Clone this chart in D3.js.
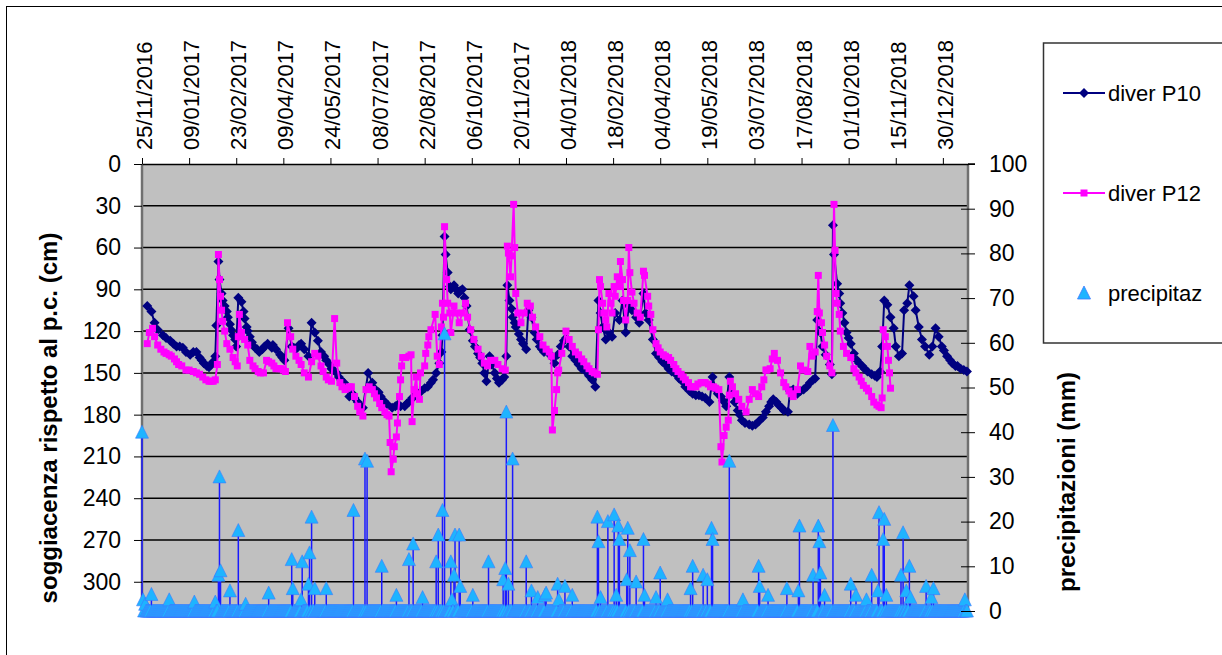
<!DOCTYPE html>
<html>
<head>
<meta charset="utf-8">
<script src="https://cdn.jsdelivr.net/npm/d3@7"></script>
<style>
  body { margin: 0; background: #fff; }
  svg { display: block; font-family: "Liberation Sans", Arial, sans-serif; }
</style>
</head>
<body>
<svg id="chart" width="1222" height="655"></svg>
<script>
// ─── Data ─────────────────────────────────────────────────────────────────────
// days are counted from START; water levels in cm below ground, rain in mm
const START = new Date(2016, 10, 25);
const END = new Date(2019, 0, 23);
const DATE_TICK_DAYS = [0, 45, 90, 135, 180, 225, 270, 315, 360, 405, 450, 495, 540, 585, 630, 675, 720, 765];
const LEFT_TICKS = [0, 30, 60, 90, 120, 150, 180, 210, 240, 270, 300];
const RIGHT_TICKS = [0, 10, 20, 30, 40, 50, 60, 70, 80, 90, 100];
const RAIN_LAST_DAY = 788;

const p10 = [
  [5,102],[9,106],[12,114],[15,119],[20,123],[23,125],[27,127],[30,129],[33,131],[36,131],[39,132],[42,135],
  [46,137],[49,135],[52,135],[55,139],[57,141],[59,143],[62,145],[64,146],[66,144],[68,142],[70,138],[71,116],
  [73,70],[74,83],[76,93],[77,98],[79,102],[81,106],[82,110],[84,115],[85,119],[87,123],[89,126],[90,131],
  [92,96],[95,99],[97,106],[98,111],[100,117],[101,120],[103,124],[105,128],[108,132],[110,133],[112,135],
  [115,133],[117,131],[120,129],[124,132],[125,130],[128,133],[132,137],[134,139],[136,141],[140,118],[143,131],
  [145,132],[147,133],[150,130],[152,129],[155,133],[159,138],[162,114],[165,121],[168,127],[171,135],[174,138],
  [176,141],[179,144],[181,147],[183,148],[186,150],[188,153],[190,155],[193,157],[195,160],[198,167],[201,165],
  [203,168],[206,171],[208,173],[211,175],[216,150],[220,157],[223,162],[226,164],[228,167],[231,170],[235,173],
  [239,175],[242,174],[244,173],[247,174],[251,174],[253,172],[255,171],[258,168],[260,167],[263,165],[267,163],
  [270,161],[273,160],[276,157],[278,155],[281,150],[284,143],[286,135],[287,123],[289,52],[290,65],[292,78],
  [294,88],[295,90],[298,87],[300,90],[302,93],[304,91],[306,90],[308,96],[310,102],[313,119],[316,127],[318,131],
  [321,136],[323,139],[325,143],[327,150],[329,156],[332,138],[334,144],[337,150],[339,154],[341,157],[344,155],
  [346,153],[348,138],[349,87],[351,98],[353,104],[354,110],[356,114],[357,117],[360,122],[362,126],[364,129],
  [367,133],[369,105],[372,110],[375,121],[377,126],[380,131],[382,133],[384,135],[387,135],[389,136],[392,139],
  [394,143],[397,137],[400,131],[403,127],[405,125],[408,131],[411,138],[414,141],[417,144],[420,147],[424,149],
  [427,152],[430,155],[433,160],[436,98],[438,107],[440,117],[443,126],[446,121],[449,124],[452,107],[456,112],
  [459,98],[462,121],[465,102],[468,105],[472,110],[475,114],[479,93],[481,107],[484,112],[488,126],[491,136],
  [494,139],[497,142],[500,144],[503,147],[506,149],[510,151],[513,154],[516,156],[519,160],[523,163],[526,165],
  [529,166],[532,166],[535,167],[538,168],[542,171],[545,153],[548,162],[550,165],[553,167],[555,170],[558,174],
  [561,153],[564,165],[566,171],[569,177],[571,180],[573,184],[576,186],[580,187],[583,188],[586,187],[589,185],
  [593,182],[596,178],[599,174],[601,171],[603,169],[606,171],[608,173],[611,175],[613,177],[617,178],[619,163],
  [622,162],[626,165],[629,163],[632,162],[635,160],[638,157],[641,155],[643,154],[645,112],[648,121],[650,131],
  [653,137],[657,144],[659,151],[660,44],[661,65],[664,86],[666,93],[667,100],[669,107],[671,114],[673,121],
  [675,125],[677,129],[680,136],[683,141],[685,143],[688,145],[690,147],[693,149],[697,151],[700,152],[702,153],
  [705,149],[707,131],[709,98],[712,101],[715,110],[718,118],[720,131],[723,138],[726,136],[728,105],[731,100],
  [733,87],[737,95],[739,105],[742,117],[745,126],[748,131],[752,137],[755,131],[758,118],[761,124],[764,131],
  [766,134],[769,138],[772,141],[774,143],[777,145],[779,145],[782,147],[785,148],[788,149]
];

const p12 = [
  [5,129],[7,121],[10,118],[12,124],[15,130],[18,133],[21,135],[23,136],[26,137],[28,138],[31,140],[33,142],
  [35,144],[38,145],[42,148],[45,148],[49,149],[52,150],[55,151],[58,153],[61,155],[64,156],[66,156],[68,156],
  [70,155],[72,144],[73,65],[74,83],[75,95],[76,105],[77,113],[79,120],[81,129],[84,133],[87,139],[89,142],
  [91,145],[92,124],[93,108],[95,121],[98,126],[101,130],[103,141],[106,145],[108,147],[111,149],[113,150],
  [116,150],[119,141],[121,142],[124,143],[126,145],[128,147],[131,147],[133,147],[135,148],[137,149],[139,114],
  [142,124],[144,133],[147,138],[150,141],[152,144],[155,150],[159,153],[162,142],[165,136],[168,138],[171,145],
  [173,149],[176,153],[178,155],[181,156],[184,111],[186,143],[189,157],[191,160],[194,162],[196,161],[198,160],
  [200,160],[203,167],[206,174],[208,178],[211,181],[214,162],[217,160],[220,162],[222,165],[224,168],[227,172],
  [229,175],[232,178],[234,180],[236,181],[237,200],[238,221],[240,212],[241,203],[243,196],[244,186],[246,167],
  [247,155],[248,145],[249,139],[252,139],[255,138],[257,137],[258,185],[260,162],[262,153],[263,165],[265,169],
  [266,150],[270,145],[271,136],[273,130],[274,124],[276,119],[280,108],[282,138],[284,144],[286,117],[287,100],
  [288,110],[289,45],[291,83],[292,100],[294,107],[295,121],[298,102],[300,107],[303,114],[306,107],[309,100],
  [311,110],[314,119],[317,126],[321,133],[324,138],[327,143],[330,145],[333,141],[337,141],[340,144],[344,147],
  [347,148],[349,59],[350,64],[352,81],[353,66],[355,29],[356,60],[357,93],[359,107],[362,114],[365,107],
  [368,100],[371,102],[373,110],[376,117],[380,124],[383,130],[386,133],[389,135],[391,138],[392,191],[394,177],
  [396,162],[397,150],[398,148],[401,136],[405,120],[408,126],[411,131],[414,135],[417,137],[420,140],[422,142],
  [425,145],[427,147],[430,149],[432,150],[435,151],[436,119],[437,83],[438,88],[440,100],[441,107],[443,112],
  [444,117],[446,93],[448,100],[449,107],[451,88],[452,95],[454,81],[456,88],[457,70],[459,83],[460,98],
  [462,112],[464,98],[465,60],[466,78],[468,92],[470,100],[473,107],[476,110],[479,77],[480,80],[483,95],
  [484,102],[486,108],[488,119],[491,129],[493,132],[495,135],[498,137],[500,138],[503,139],[505,141],[508,144],
  [510,147],[512,149],[515,151],[517,153],[519,155],[522,157],[524,160],[526,160],[529,160],[531,158],[534,157],
  [536,157],[538,157],[541,158],[543,160],[546,160],[548,161],[551,162],[553,203],[554,214],[556,195],[558,189],
  [560,184],[561,166],[562,156],[564,160],[567,165],[570,169],[573,174],[577,178],[580,169],[583,162],[586,165],
  [589,167],[592,160],[594,155],[596,148],[597,148],[600,147],[602,140],[604,136],[607,141],[610,150],[613,157],
  [615,160],[618,163],[620,165],[622,167],[626,162],[629,145],[632,148],[636,149],[638,131],[640,138],[643,135],
  [645,106],[646,80],[647,107],[649,114],[650,121],[652,130],[654,138],[657,145],[659,150],[661,29],[662,62],
  [663,93],[664,100],[666,108],[667,120],[670,131],[673,136],[677,139],[680,147],[682,150],[685,153],[687,156],
  [689,159],[692,161],[694,163],[697,167],[699,171],[702,173],[704,174],[706,175],[707,168],[708,119],[710,124],
  [712,131],[713,141],[714,150],[715,161]
];

// rainy days only; every other day up to RAIN_LAST_DAY is 0 mm
const rain = [
  [0,40],[1,2.5],[3,1.5],[9,3.7],[26,2.5],[50,2],[70,2],[73,8],[74,30],[75,9],[84,4.5],[92,18],[99,1.5],
  [121,4],[143,11.5],[144,5],[152,2.5],[153,11],[159,6],[160,13],[162,21],[165,5],[176,5],[202,22.5],[213,34],
  [215,33.5],[229,10],[243,3.5],[255,11.5],[259,15],[268,3],[281,11],[283,17],[287,22.5],[289,62],[295,11],
  [296,2.5],[298,8],[299,17],[303,17],[304,5.5],[316,3.5],[331,11],[345,7],[347,9.5],[348,44.5],[350,6],[354,34],
  [367,11],[372,4.5],[378,3],[385,3.5],[386,4],[397,6],[398,2.5],[404,5.5],[411,3.5],[435,21],[436,15.5],
  [438,3],[445,20],[451,21.5],[453,3.5],[455,19],[456,16],[463,7],[464,18.5],[466,13.5],[472,6.5],[479,16],
  [480,3.5],[491,3],[495,8.5],[502,2.5],[524,5],[526,10],[536,8],[540,7],[544,18.5],[545,16],[561,33.5],
  [574,2.5],[589,10],[590,5.5],[598,3.5],[616,5],[627,4.5],[628,19],[641,8],[646,19],[647,15.5],[648,8.5],
  [652,3.5],[660,41.5],[677,6],[682,3.5],[692,2.5],[697,8],[703,4.5],[704,22],[708,16],[709,20.5],[711,3.5],
  [725,8],[727,17.5],[730,4.5],[733,10],[734,3],[749,5.5],[754,3],[756,5],[786,2.5]
];

// ─── Layout ───────────────────────────────────────────────────────────────────
const plot = { left: 142, top: 164, right: 968, bottom: 611 };
const NAVY = '#000080', MAGENTA = '#ff00ff', RAIN_FILL = '#1eb4ff', RAIN_EDGE = '#3d78ff';
const FONT = '"Liberation Sans", Arial, sans-serif';
const day = d => d3.timeDay.offset(START, d);

const svg = d3.select('#chart');

// outer chart frame
svg.append('rect').attr('x', 6.5).attr('y', 6.5).attr('width', 1300).attr('height', 700)
  .attr('fill', '#fff').attr('stroke', '#000').attr('stroke-width', 1);

const x = d3.scaleTime().domain([START, END]).range([plot.left, plot.right]);
const yL = d3.scaleLinear().domain([0, 321]).range([plot.top, plot.bottom]);
const yR = d3.scaleLinear().domain([0, 100]).range([plot.bottom, plot.top]);

// plot background
svg.append('rect')
  .attr('x', plot.left).attr('y', plot.top)
  .attr('width', plot.right - plot.left).attr('height', plot.bottom - plot.top)
  .attr('fill', '#c0c0c0');

// Gridlines
svg.append('g').selectAll('line').data(LEFT_TICKS.filter(d => d > 0)).join('line')
  .attr('x1', plot.left).attr('x2', plot.right)
  .attr('y1', d => yL(d)).attr('y2', d => yL(d))
  .attr('stroke', '#000').attr('stroke-width', 1.5);

// plot side borders
svg.append('g').selectAll('line').data([plot.left, plot.right]).join('line')
  .attr('x1', d => d).attr('x2', d => d)
  .attr('y1', plot.top).attr('y2', plot.bottom)
  .attr('stroke', '#707070').attr('stroke-width', 2.5);

// ─── Series ───────────────────────────────────────────────────────────────────
const line = d3.line().x(d => x(day(d[0]))).y(d => yL(d[1]));
const diamond = 'M0,-5L5,0L0,5L-5,0Z';
const square = 'M-3.5,-3.5H3.5V3.5H-3.5Z';
const triangle = 'M0,-7L6.5,6H-6.5Z';

function drawSeries(data, color, marker) {
  const g = svg.append('g');
  g.append('path').datum(data).attr('d', line)
    .attr('fill', 'none').attr('stroke', color).attr('stroke-width', 2);
  g.selectAll('path.m').data(data).join('path').attr('class', 'm')
    .attr('transform', d => `translate(${x(day(d[0]))},${yL(d[1])})`)
    .attr('d', marker).attr('fill', color);
}
drawSeries(p10, NAVY, diamond);
drawSeries(p12, MAGENTA, square);

// precipitation: one marker per day, drop line for rainy days
const rainMap = new Map(rain);
const rainDays = d3.range(0, RAIN_LAST_DAY + 1).map(d => [d, rainMap.get(d) || 0]);
const gr = svg.append('g');
gr.selectAll('line').data(rainDays.filter(d => d[1] > 0)).join('line')
  .attr('x1', d => x(day(d[0]))).attr('x2', d => x(day(d[0])))
  .attr('y1', d => yR(d[1])).attr('y2', yR(0))
  .attr('stroke', '#1a1aff').attr('stroke-width', 1.5);
gr.selectAll('path').data(rainDays).join('path')
  .attr('transform', d => `translate(${x(day(d[0]))},${yR(d[1])})`)
  .attr('d', triangle).attr('fill', RAIN_FILL)
  .attr('stroke', RAIN_EDGE).attr('stroke-width', 0.6);

// ─── Axes ─────────────────────────────────────────────────────────────────────
const fmt = d3.timeFormat('%d/%m/%Y');
const axisTopG = svg.append('g').attr('transform', `translate(0,${plot.top})`)
  .call(d3.axisTop(x).tickValues(DATE_TICK_DAYS.map(day)).tickFormat(fmt).tickSize(6).tickSizeOuter(0));
axisTopG.select('.domain').attr('stroke', '#000').attr('stroke-width', 1.5);
axisTopG.selectAll('text')
  .attr('transform', 'rotate(-90)').attr('x', 14).attr('y', 9.5).attr('dy', 0)
  .attr('text-anchor', 'start').attr('font-size', 22).attr('fill', '#000')
  .attr('font-family', FONT);

const axisLeftG = svg.append('g').attr('transform', `translate(${plot.left},0)`)
  .call(d3.axisLeft(yL).tickValues(LEFT_TICKS).tickSize(8).tickPadding(13));
axisLeftG.select('.domain').remove();
axisLeftG.selectAll('text').attr('font-size', 23).attr('fill', '#000').attr('font-family', FONT);

const axisRightG = svg.append('g').attr('transform', `translate(${plot.right},0)`)
  .call(d3.axisRight(yR).tickValues(RIGHT_TICKS).tickSize(7).tickPadding(14));
axisRightG.select('.domain').remove();
axisRightG.selectAll('.tick line').attr('x1', -7);
axisRightG.selectAll('text').attr('font-size', 23).attr('fill', '#000').attr('font-family', FONT);

// top border reaches the right tick
svg.append('line').attr('x1', plot.right).attr('x2', plot.right + 7)
  .attr('y1', plot.top).attr('y2', plot.top).attr('stroke', '#000').attr('stroke-width', 1.5);

// Axis titles
svg.append('text').attr('transform', 'translate(49,418) rotate(-90)')
  .attr('text-anchor', 'middle').attr('dy', '0.35em')
  .attr('font-size', 24).attr('font-weight', 700)
  .text('soggiacenza rispetto al p.c. (cm)');
svg.append('text').attr('transform', 'translate(1067,482) rotate(-90)')
  .attr('text-anchor', 'middle').attr('dy', '0.35em')
  .attr('font-size', 24).attr('font-weight', 700)
  .text('precipitazioni (mm)');

// ─── Legend ───────────────────────────────────────────────────────────────────
const legend = svg.append('g');
legend.append('rect').attr('x', 1043.5).attr('y', 43).attr('width', 300).attr('height', 300)
  .attr('fill', '#fff').attr('stroke', '#333').attr('stroke-width', 1.5);
const items = [
  { label: 'diver P10', color: NAVY, marker: diamond, y: 93, line: true },
  { label: 'diver P12', color: MAGENTA, marker: square, y: 193, line: true },
  { label: 'precipitaz', color: RAIN_FILL, marker: triangle, y: 293, line: false },
];
items.forEach(it => {
  if (it.line) {
    legend.append('line').attr('x1', 1063).attr('x2', 1105).attr('y1', it.y).attr('y2', it.y)
      .attr('stroke', it.color).attr('stroke-width', 2);
  }
  legend.append('path').attr('transform', `translate(1084,${it.y})`).attr('d', it.marker)
    .attr('fill', it.color).attr('stroke', it.line ? 'none' : RAIN_EDGE).attr('stroke-width', 0.8);
  legend.append('text').attr('x', 1108).attr('y', it.y).attr('dy', '0.35em')
    .attr('font-size', 22).text(it.label);
});
</script>
</body>
</html>
